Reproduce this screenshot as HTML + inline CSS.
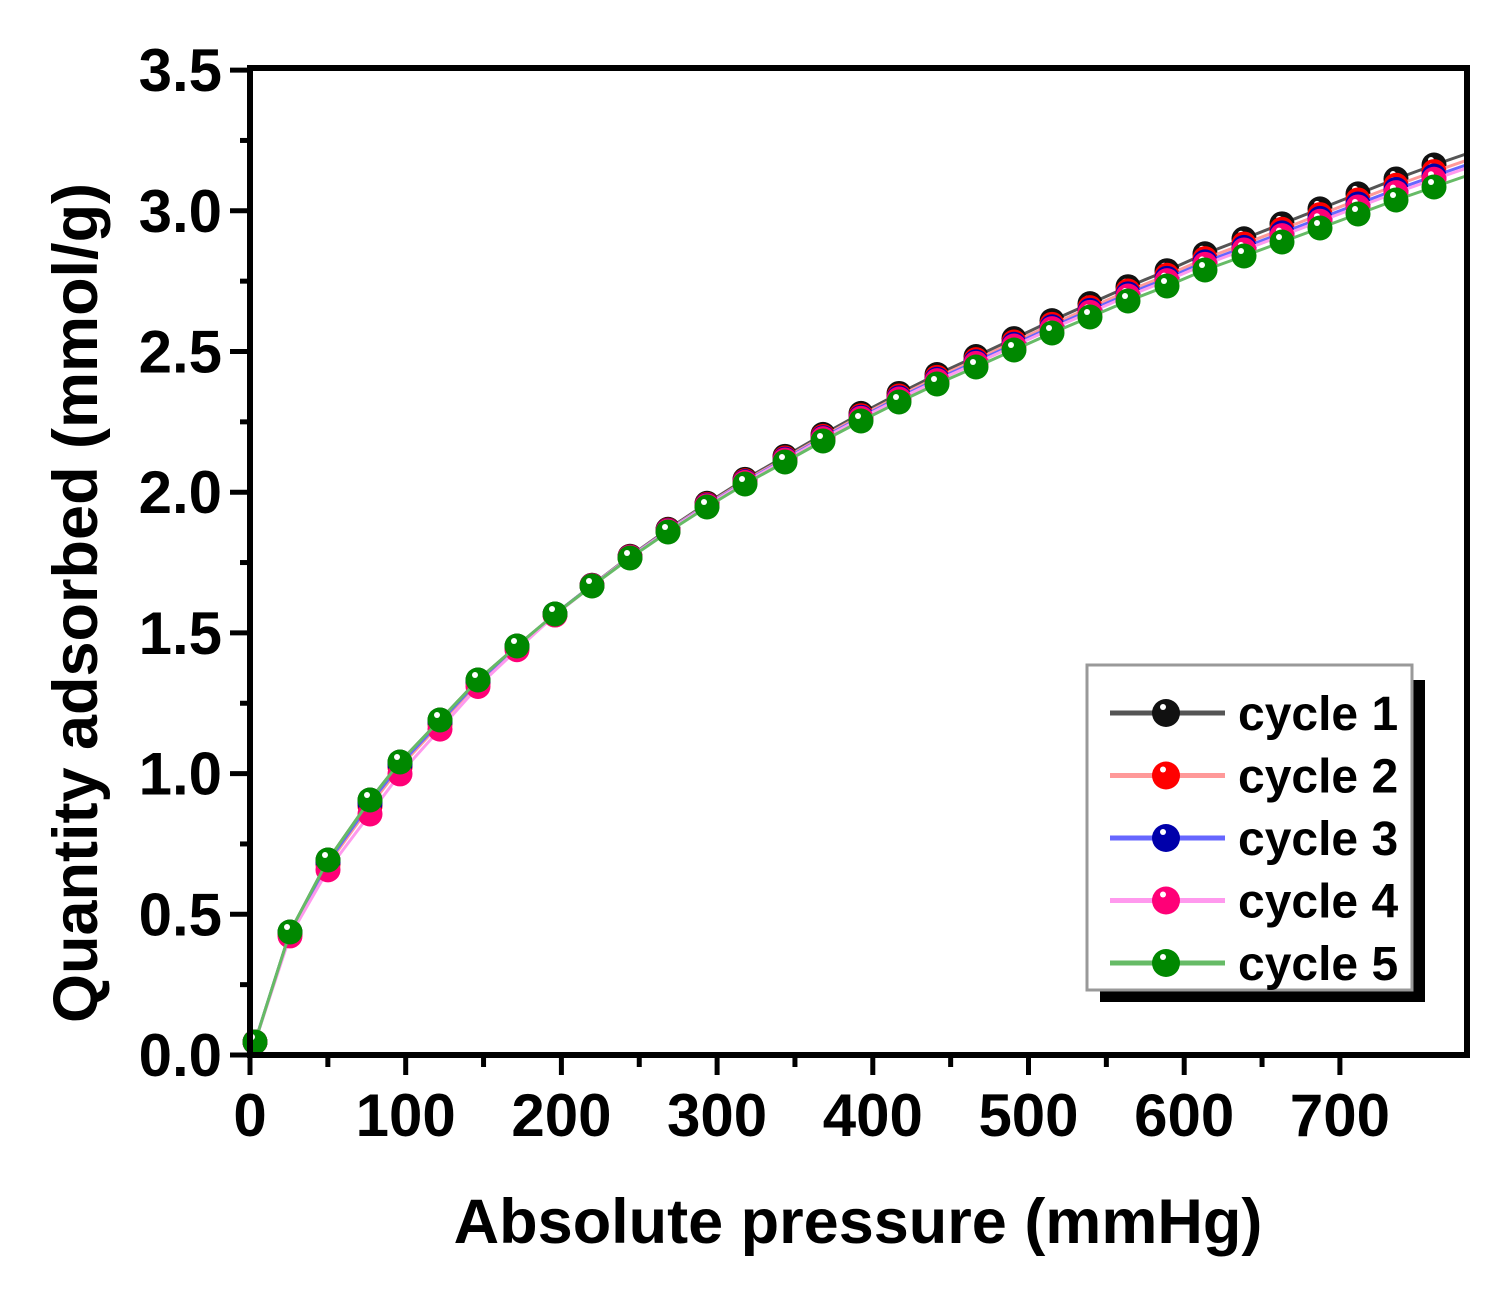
<!DOCTYPE html>
<html><head><meta charset="utf-8"><style>
html,body{margin:0;padding:0;background:#fff;}
svg{display:block;}
text{font-family:"Liberation Sans",Arial,sans-serif;font-weight:bold;fill:#000;}
</style></head><body>
<svg id="s" width="1511" height="1297" viewBox="0 0 1511 1297" xmlns="http://www.w3.org/2000/svg">
<rect width="1511" height="1297" fill="#fff"/>
<g id="plot"></g>
<rect x="250" y="68" width="1217" height="987" fill="none" stroke="#000" stroke-width="6"/>
<g id="ticks" stroke="#000" stroke-width="5"></g>
<g font-size="60" text-anchor="end" id="yl"></g>
<g font-size="60" text-anchor="middle" id="xl"></g>
<text x="858" y="1243" font-size="63" text-anchor="middle">Absolute pressure (mmHg)</text>
<text transform="translate(97,603) rotate(-90)" font-size="63" text-anchor="middle">Quantity adsorbed (mmol/g)</text>
<rect x="1100" y="680" width="325" height="322" fill="#000"/>
<rect x="1087" y="665" width="325" height="325" fill="#fff" stroke="#999" stroke-width="3"/>
<g id="leg"></g>
</svg>
<script>
const ns="http://www.w3.org/2000/svg";
function el(p,t,a,txt){const e=document.createElementNS(ns,t);for(const k in a)e.setAttribute(k,a[k]);if(txt!==undefined)e.textContent=txt;document.getElementById(p).appendChild(e);return e;}
for(let i=0;i<=7;i++){const y=1055-i*140.7;el('yl','text',{x:222,y:y+21},(i*0.5).toFixed(1));el('ticks','line',{x1:230,y1:y,x2:250,y2:y});}
for(let i=0;i<7;i++){const y=1055-(i+0.5)*140.7;el('ticks','line',{x1:240,y1:y,x2:250,y2:y});}
for(let i=0;i<=7;i++){const x=250+i*155.7;el('xl','text',{x:x,y:1136},String(i*100));el('ticks','line',{x1:x,y1:1055,x2:x,y2:1075});}
for(let i=0;i<7;i++){const x=250+(i+0.5)*155.7;el('ticks','line',{x1:x,y1:1055,x2:x,y2:1067});}
const xs=[255,290,328,370,400,440,478,517,555,592,630,668,707,745,785,823,861,899,937,976,1014,1052,1090,1128,1167,1205,1244,1282,1320,1358,1396,1434];
const yg=[1042,932,860,800,762,720,680,646,614,586,558,532,507,484,462,441,421,402,384,367,350,333,317,301,286,270,256,242,228,214,200,187];
const series=[
 {c:'#111',l:'#555',k:1.0,lo:0},
 {c:'#f00',l:'#f99',k:0.7,lo:6},
 {c:'#00a',l:'#66f',k:0.5,lo:3},
 {c:'#f07',l:'#f9e',k:0.35,lo:14},
 {c:'#080',l:'#6b6',k:0,lo:0}];
series.forEach(s=>{
 const pts=xs.map((x,i)=>{let d=Math.max(0,(x-560)/874*22)*s.k;let lo=(x<560&&x>270)?s.lo*Math.max(0,1-(x-370)/200)*(x<370?(x-270)/100:1):0;return [x,yg[i]-d+lo];});
 const last=pts[pts.length-1];const ext=[1466,last[1]-11];
 el('plot','polyline',{points:pts.concat([ext]).map(p=>p.join(',')).join(' '),fill:'none',stroke:s.l,'stroke-width':3});
 pts.forEach(p=>{el('plot','circle',{cx:p[0],cy:p[1],r:12.5,fill:s.c});el('plot','circle',{cx:p[0]-3,cy:p[1]-5,r:3,fill:'#fff'});});
});
series.forEach((s,i)=>{const y=713+i*62.5;
 el('leg','line',{x1:1110,y1:y,x2:1225,y2:y,stroke:s.l,'stroke-width':5});
 el('leg','circle',{cx:1166,cy:y,r:14,fill:s.c});el('leg','circle',{cx:1163,cy:y-6,r:3,fill:'#fff'});
 el('leg','text',{x:1238,y:y+17,'font-size':48},'cycle '+(i+1));});
</script>
</body></html>
